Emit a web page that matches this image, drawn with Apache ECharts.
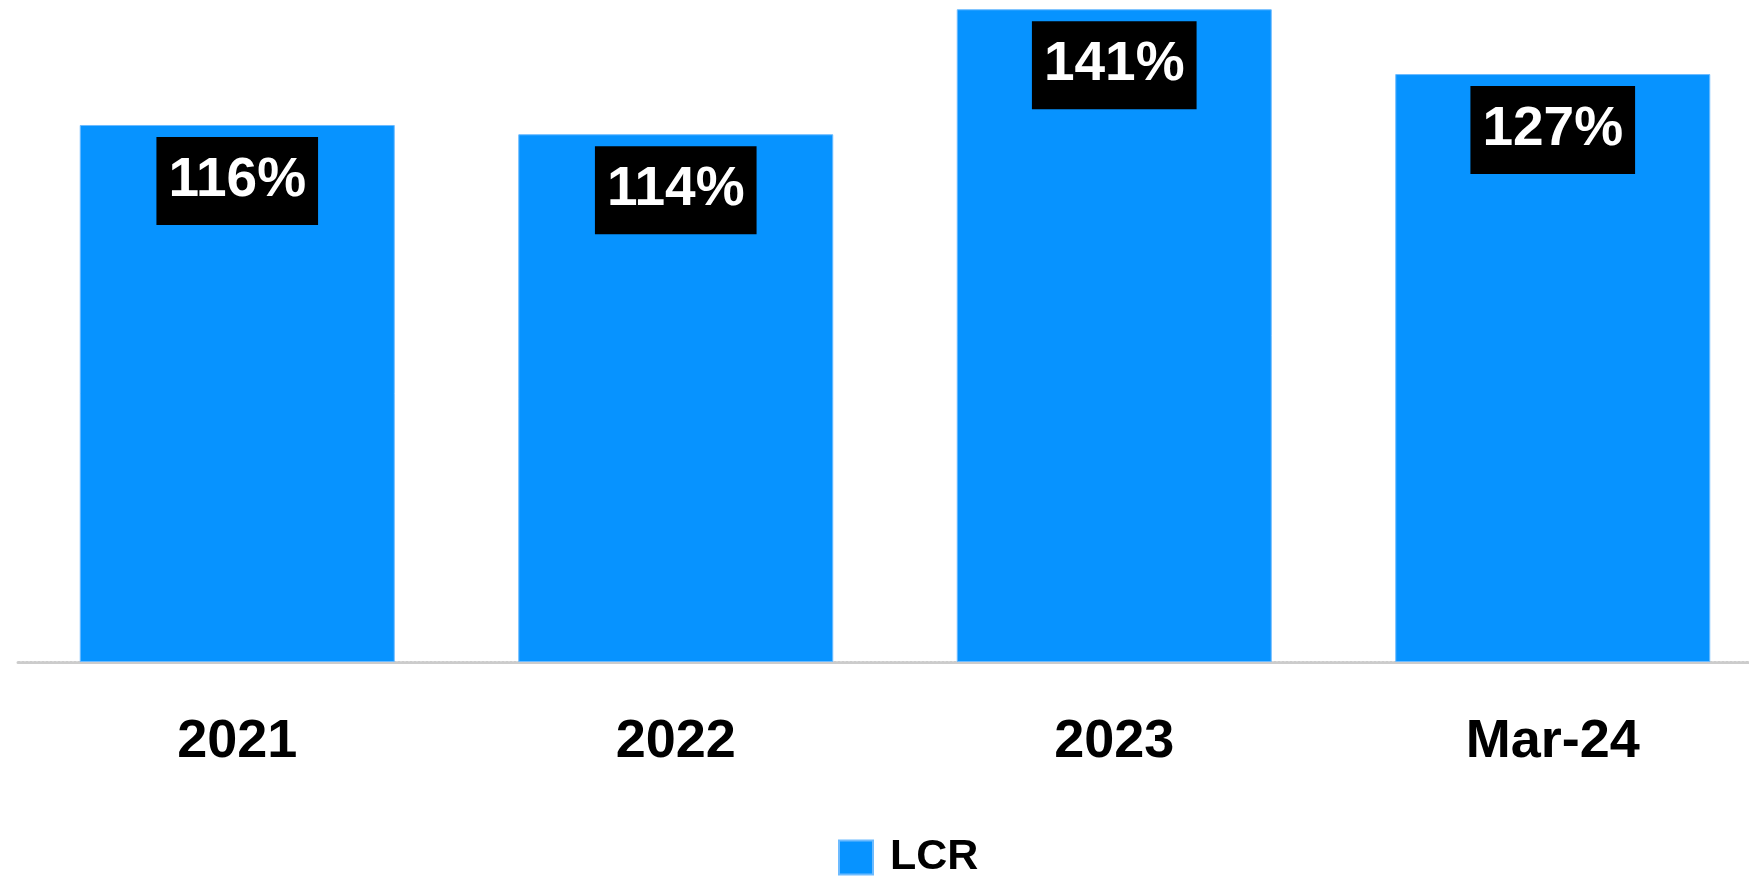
<!DOCTYPE html>
<html>
<head>
<meta charset="utf-8">
<script src="https://cdn.jsdelivr.net/npm/echarts@6/dist/echarts.min.js"></script>
<style>
html,body{margin:0;padding:0;background:#fff;overflow:hidden;width:1749px;height:877px;}
#chart{width:1790px;height:877px;}
</style>
</head>
<body>
<div id="chart"></div>
<script>
const categories = ['2021', '2022', '2023', 'Mar-24'];
const lcrValues = [116, 114, 141, 127];
const seriesName = 'LCR';

const FONT = "'Liberation Sans', Arial, sans-serif";
const chart = echarts.init(document.getElementById('chart'), null, {renderer: 'canvas'});
chart.setOption({
  animation: false,
  backgroundColor: '#ffffff',
  grid: {left: 18, top: 0, width: 1754, height: 662},
  legend: {
    data: [seriesName],
    left: 833,
    top: 831,
    icon: 'rect',
    itemWidth: 34,
    itemHeight: 34,
    textStyle: {fontFamily: FONT, fontWeight: 'bold', fontSize: 43, color: '#000', padding: [0, 0, 0, 12]}
  },
  xAxis: {
    type: 'category',
    data: categories,
    axisTick: {show: false},
    axisLine: {show: true, lineStyle: {color: '#cccccc', width: 3, type: [2, 2]}},
    axisLabel: {fontFamily: FONT, fontWeight: 'bold', fontSize: 54, color: '#000', margin: 53}
  },
  yAxis: {
    type: 'value', min: 0, max: 143, show: false,
    splitLine: {show: false}
  },
  series: [{
    name: seriesName,
    type: 'bar',
    data: lcrValues,
    barWidth: 315,
    itemStyle: {color: '#0793FF', borderColor: '#6DBBFF', borderWidth: 1},
    label: {
      show: true,
      position: 'insideTop',
      distance: 12,
      formatter: p => p.value + '%',
      fontFamily: FONT,
      fontWeight: 'bold',
      fontSize: 55,
      color: '#fff',
      backgroundColor: '#000',
      lineHeight: 88,
      padding: [0, 12]
    }
  }]
});
</script>
</body>
</html>
